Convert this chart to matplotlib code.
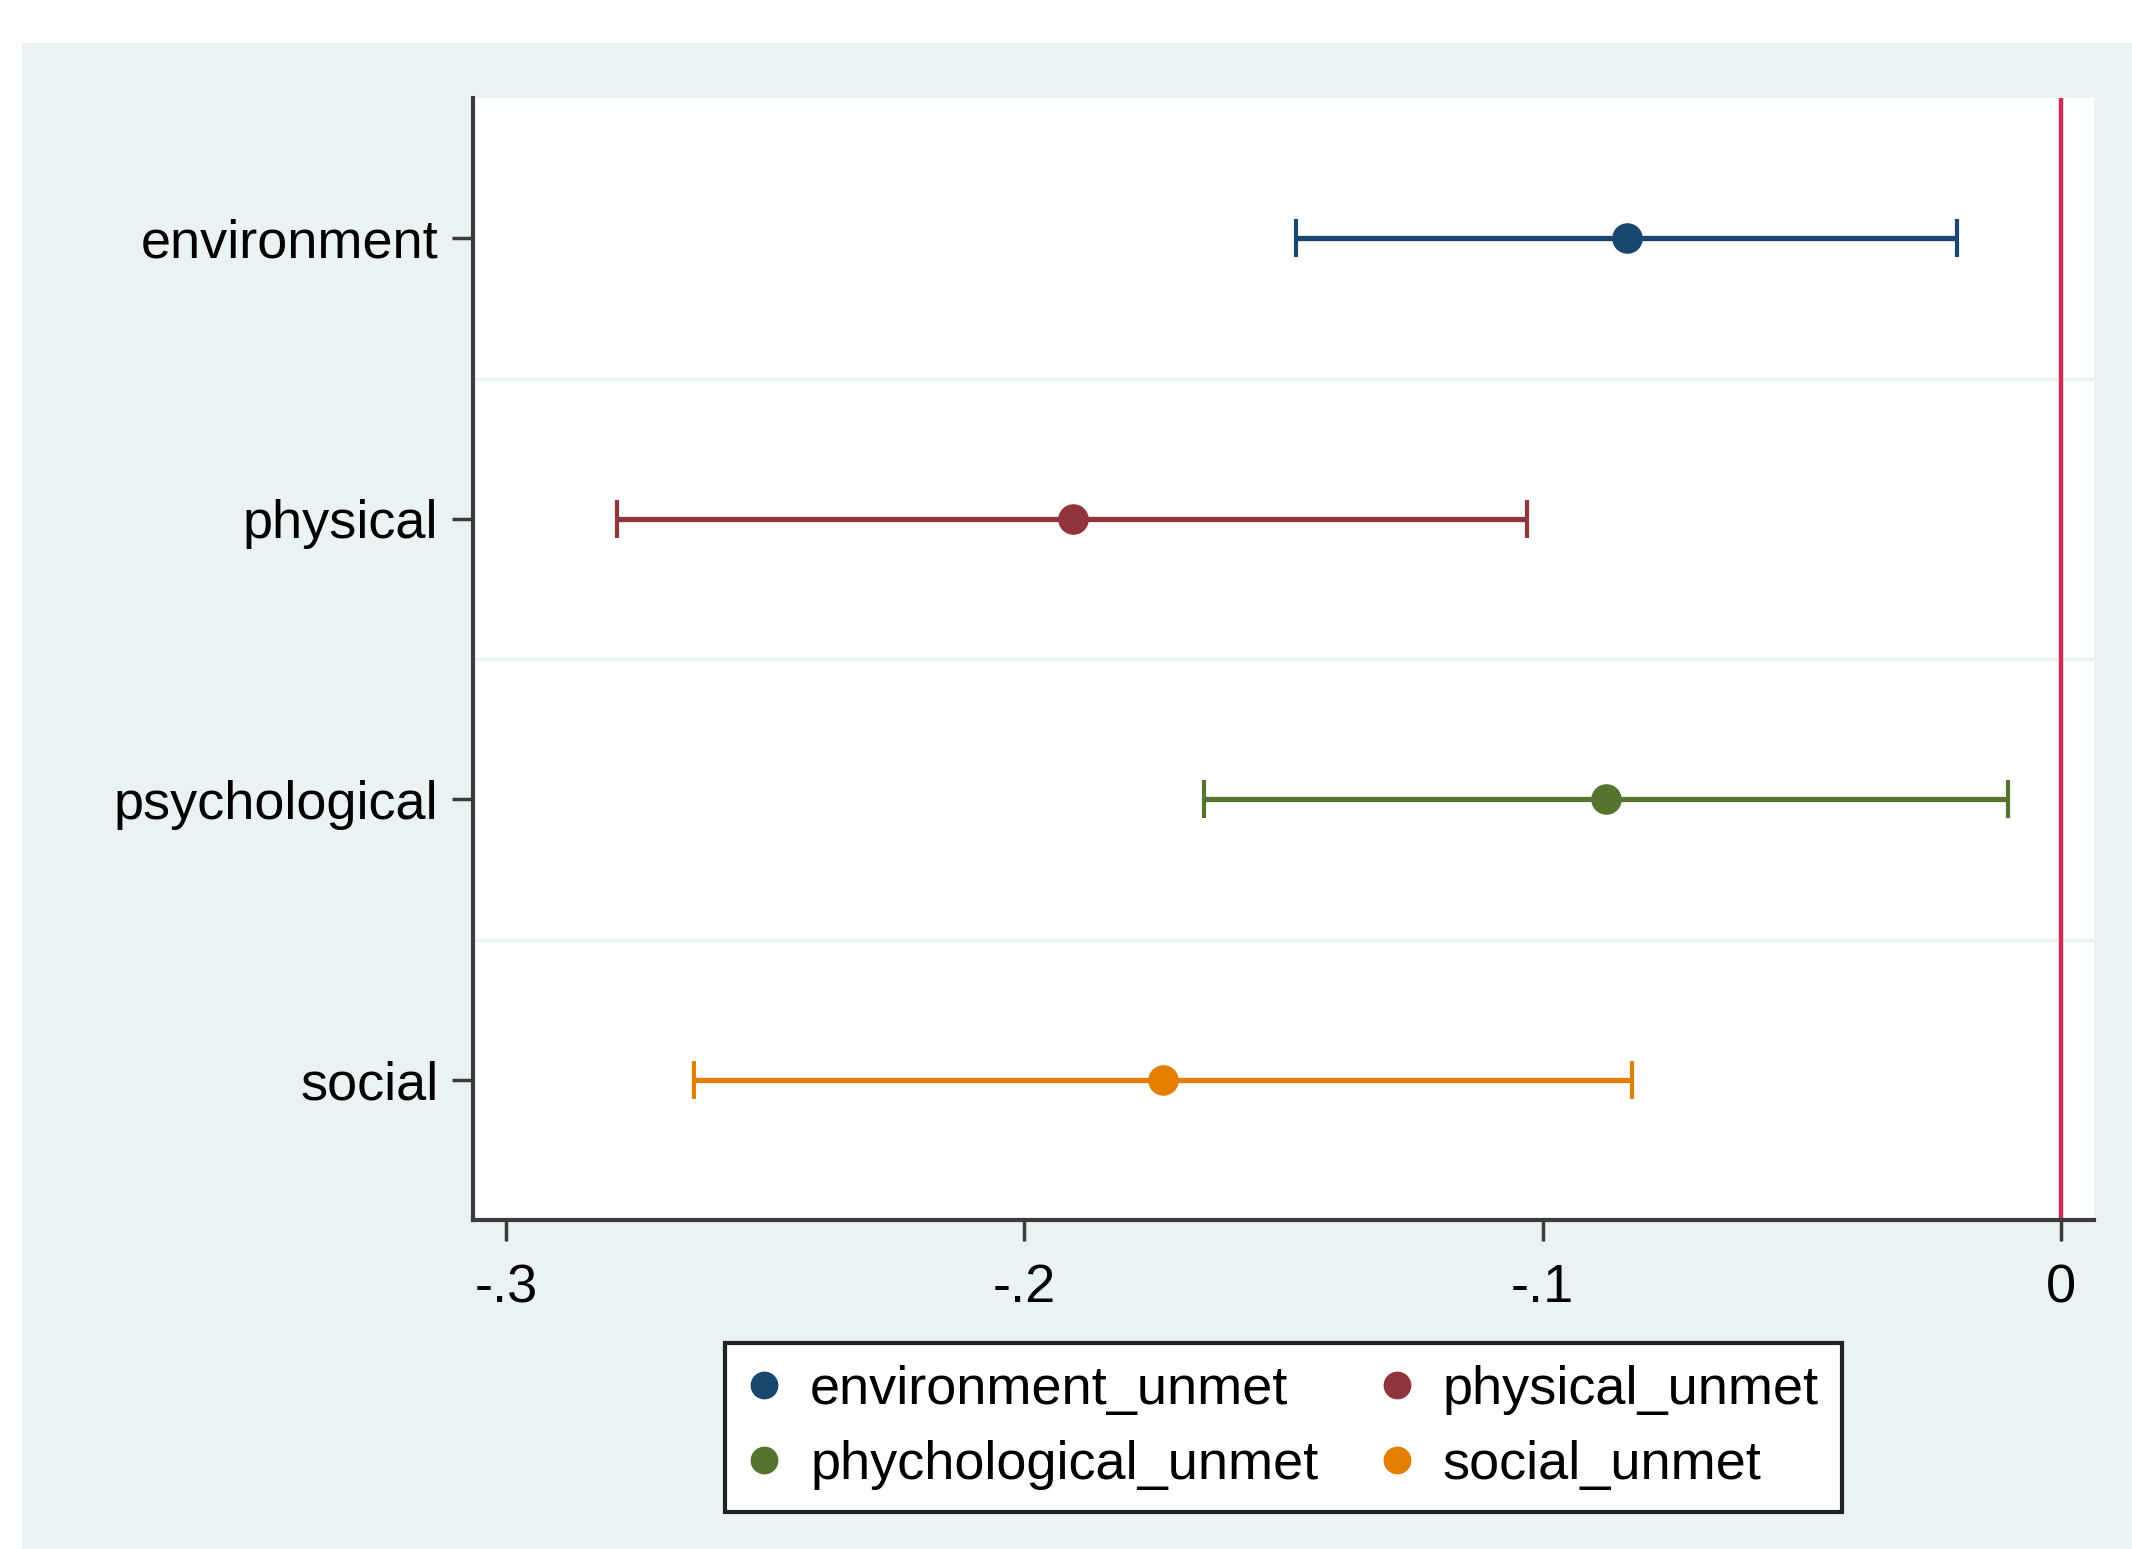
import matplotlib
matplotlib.use("Agg")
import matplotlib.pyplot as plt
from matplotlib.patches import Rectangle
from matplotlib.lines import Line2D

plt.rcParams['font.family'] = ['Liberation Sans', 'DejaVu Sans']

# Coefficients and 95% CI
categories = ['environment', 'physical', 'psychological', 'social']
legend_labels = ['environment_unmet', 'physical_unmet', 'phychological_unmet', 'social_unmet']
estimates = [-0.0837, -0.1907, -0.0877, -0.1733]
ci_low = [-0.1476, -0.2786, -0.1653, -0.2637]
ci_high = [-0.0201, -0.1030, -0.0102, -0.0828]
colors = ['#1a476f', '#90353b', '#55752f', '#e37e00']
xticks = [-0.3, -0.2, -0.1, 0]
xticklabels = ['-.3', '-.2', '-.1', '0']

W, H = 2132, 1549
fig = plt.figure(figsize=(W / 100, H / 100), dpi=100, facecolor='white')
bg = '#eaf2f3'
fig.patches.append(Rectangle((22 / W, 0), 1 - 22 / W, 1 - 43 / H,
                             transform=fig.transFigure, facecolor=bg,
                             edgecolor='none', zorder=-10))

left, right, top, bottom = 473 / W, 2094 / W, 1 - 98 / H, 1 - 1220 / H
ax = fig.add_axes([left, bottom, right - left, top - bottom])
ax.set_facecolor('white')

ypos = list(range(1, len(categories) + 1))
for y, est, lo, hi, c in zip(ypos, estimates, ci_low, ci_high, colors):
    ax.errorbar(est, y, xerr=[[est - lo], [hi - est]], fmt='o', color=c,
                ecolor=c, elinewidth=3.8, capsize=14, capthick=3.0,
                markersize=21, zorder=3)

# separators between categories
for yy in [1.5, 2.5, 3.5]:
    ax.axhline(yy, color=bg, lw=2.5, zorder=1)

ax.axvline(0, color='#cc2b55', lw=3.2, zorder=2)

ax.set_ylim(4.5, 0.5)
ax.set_xlim(-0.3064, 0.0064)
ax.set_yticks(ypos)
ax.set_yticklabels(categories)
ax.set_xticks(xticks)
ax.set_xticklabels(xticklabels)

for s in ['top', 'right']:
    ax.spines[s].set_visible(False)
for s in ['left', 'bottom']:
    ax.spines[s].set_color('#3c3c3c')
    ax.spines[s].set_linewidth(3)

ax.tick_params(axis='both', which='major', labelsize=39, length=15, width=2.5,
               color='#3c3c3c', direction='out')
ax.tick_params(axis='x', pad=16)
ax.tick_params(axis='y', pad=10)

handles = [Line2D([], [], marker='o', linestyle='none', color=c, markersize=19)
           for c in colors]
order = [0, 2, 1, 3]
leg = fig.legend([handles[i] for i in order], [legend_labels[i] for i in order],
                 ncol=2, loc='center', bbox_to_anchor=(0.602, 0.0784),
                 fontsize=39, frameon=True, fancybox=False, edgecolor='#222222',
                 framealpha=1, handlelength=0.6, handletextpad=0.55,
                 columnspacing=1.15, labelspacing=0.45, borderpad=0.42)
leg.get_frame().set_linewidth(3)
leg.get_frame().set_facecolor('white')

fig.savefig('out.png', dpi=100, facecolor=fig.get_facecolor())
